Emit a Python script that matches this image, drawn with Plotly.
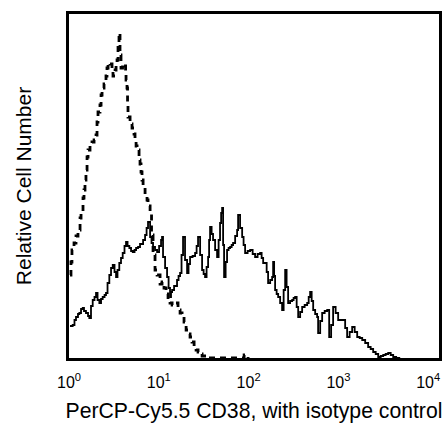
import plotly.graph_objects as go

# CD38 stained sample (solid), x in decades (log10 of intensity), y = relative count
cd38_x = [0.011, 0.041, 0.061, 0.078, 0.100, 0.115, 0.134, 0.153, 0.167, 0.189,
          0.212, 0.226, 0.245, 0.264, 0.284, 0.301, 0.318, 0.338, 0.357, 0.375,
          0.396, 0.412, 0.429, 0.449, 0.468, 0.487, 0.507, 0.524, 0.540, 0.560,
          0.579, 0.598, 0.618, 0.635, 0.652, 0.672, 0.691, 0.710, 0.730, 0.747,
          0.769, 0.791, 0.825, 0.847, 0.864, 0.880, 0.903, 0.919, 0.936, 0.958,
          0.981, 1.003, 1.025, 1.036, 1.047, 1.070, 1.092, 1.109, 1.125, 1.136,
          1.148, 1.170, 1.203, 1.220, 1.237, 1.253, 1.270, 1.292, 1.315, 1.331,
          1.348, 1.376, 1.404, 1.421, 1.437, 1.460, 1.482, 1.499, 1.515, 1.532,
          1.549, 1.560, 1.571, 1.588, 1.604, 1.627, 1.649, 1.666, 1.682, 1.694,
          1.705, 1.716, 1.727, 1.744, 1.760, 1.777, 1.794, 1.811, 1.827, 1.850,
          1.872, 1.883, 1.905, 1.928, 1.944, 1.961, 1.989, 2.017, 2.045, 2.072,
          2.100, 2.128, 2.145, 2.162, 2.184, 2.201, 2.217, 2.240, 2.262, 2.273,
          2.284, 2.295, 2.312, 2.329, 2.351, 2.373, 2.390, 2.407, 2.423, 2.440,
          2.462, 2.485, 2.501, 2.518, 2.535, 2.552, 2.574, 2.596, 2.624, 2.652,
          2.669, 2.685, 2.702, 2.719, 2.741, 2.763, 2.774, 2.797, 2.819, 2.847,
          2.875, 2.897, 2.919, 2.941, 2.969, 2.997, 3.025, 3.053, 3.075, 3.097,
          3.125, 3.153, 3.181, 3.209, 3.237, 3.265, 3.298, 3.331, 3.359, 3.387,
          3.415, 3.443, 3.471, 3.499, 3.526, 3.554, 3.582, 3.610, 3.643, 3.688]
cd38_y = [32, 33, 38, 41, 44, 45, 49, 50, 47, 45,
          42, 40, 52, 58, 61, 65, 58, 55, 59, 61,
          63, 65, 75, 83, 90, 93, 86, 81, 88, 95,
          100, 105, 112, 116, 112, 110, 107, 106, 108, 110,
          111, 114, 118, 123, 130, 136, 121, 115, 111, 108,
          106, 112, 118, 121, 101, 90, 81, 70, 61, 66,
          68, 72, 78, 82, 85, 103, 121, 98, 85, 94,
          101, 102, 105, 112, 121, 103, 88, 84, 81, 91,
          101, 118, 131, 124, 118, 108, 101, 118, 135, 145,
          150, 113, 81, 96, 108, 110, 111, 113, 115, 122,
          128, 143, 130, 121, 113, 105, 107, 108, 104, 101,
          104, 105, 100, 95, 95, 86, 75, 78, 81, 96,
          82, 68, 64, 61, 55, 48, 68, 88, 71, 55,
          57, 58, 60, 61, 51, 41, 46, 51, 53, 55,
          61, 66, 57, 48, 44, 41, 25, 37, 45, 47,
          48, 21, 33, 51, 45, 38, 38, 38, 30, 21,
          26, 31, 26, 21, 20, 18, 15, 11, 9, 6,
          4, 1, 2, 3, 4, 5, 3, 1, 0, 0]

# isotype control (dashed)
iso_x = [0.011, 0.022, 0.033, 0.056, 0.078, 0.100, 0.123, 0.134, 0.156, 0.167,
         0.178, 0.189, 0.201, 0.212, 0.234, 0.256, 0.279, 0.301, 0.312, 0.323,
         0.345, 0.357, 0.368, 0.390, 0.412, 0.423, 0.435, 0.457, 0.479, 0.490,
         0.513, 0.524, 0.535, 0.546, 0.557, 0.568, 0.579, 0.596, 0.613, 0.630,
         0.635, 0.646, 0.652, 0.657, 0.680, 0.702, 0.724, 0.735, 0.747, 0.758,
         0.769, 0.780, 0.791, 0.802, 0.813, 0.825, 0.847, 0.869, 0.880, 0.903,
         0.919, 0.936, 0.958, 0.981, 1.014, 1.036, 1.058, 1.081, 1.103, 1.125,
         1.148, 1.181, 1.214, 1.237, 1.259, 1.281, 1.304, 1.326, 1.348, 1.370,
         1.393, 1.415, 1.437, 1.460, 1.482, 1.515, 1.538, 1.928, 1.950, 1.972,
         1.994]
iso_y = [83, 96, 108, 115, 122, 128, 140, 146, 160, 168,
         178, 188, 201, 208, 213, 216, 218, 223, 236, 246,
         253, 263, 270, 274, 282, 290, 295, 294, 288, 282,
         288, 292, 298, 313, 325, 303, 290, 294, 292, 286,
         278, 270, 253, 241, 234, 230, 224, 218, 212, 211,
         208, 198, 194, 186, 178, 171, 163, 158, 152, 145,
         123, 103, 88, 83, 74, 76, 70, 64, 59, 55,
         53, 55, 48, 45, 43, 36, 28, 24, 21, 16,
         11, 8, 6, 4, 2, 2, 0, 0, 3, 2,
         0]

tick_vals = [0, 1, 2, 3, 4]
tick_text = ["10<sup>0</sup>", "10<sup>1</sup>", "10<sup>2</sup>", "10<sup>3</sup>", "10<sup>4</sup>"]

fig = go.Figure()
fig.add_trace(go.Scatter(x=iso_x, y=iso_y, mode="lines", line_shape="hv",
                         line=dict(color="black", width=2.8, dash="6px,5px")))
fig.add_trace(go.Scatter(x=cd38_x, y=cd38_y, mode="lines", line_shape="hv",
                         line=dict(color="black", width=1.8)))

fig.update_layout(
    width=444, height=423,
    margin=dict(l=69, r=5, t=14, b=65),
    paper_bgcolor="white", plot_bgcolor="white",
    showlegend=False,
    font=dict(family="Liberation Sans, Arial, sans-serif", color="black"),
)
fig.update_xaxes(range=[0, 4.12], tickvals=tick_vals, ticktext=tick_text,
                 showgrid=False, zeroline=False, ticks="", automargin=False,
                 showline=True, linecolor="black", linewidth=2.5, mirror=True,
                 tickfont=dict(size=16), ticklabelstandoff=8,
                 title=dict(text="PerCP-Cy5.5 CD38, with isotype control",
                            font=dict(size=21.2), standoff=18))
fig.update_yaxes(range=[0, 344], showticklabels=False, showgrid=False,
                 zeroline=False, ticks="", automargin=False,
                 showline=True, linecolor="black", linewidth=2.5, mirror=True,
                 title=dict(text="Relative Cell Number", font=dict(size=21), standoff=29))

# drop the default page margin so the figure sits at the window's top-left corner
fig.write_html("out.html", config={"displayModeBar": False},
               post_script="document.body.style.margin='0';")
